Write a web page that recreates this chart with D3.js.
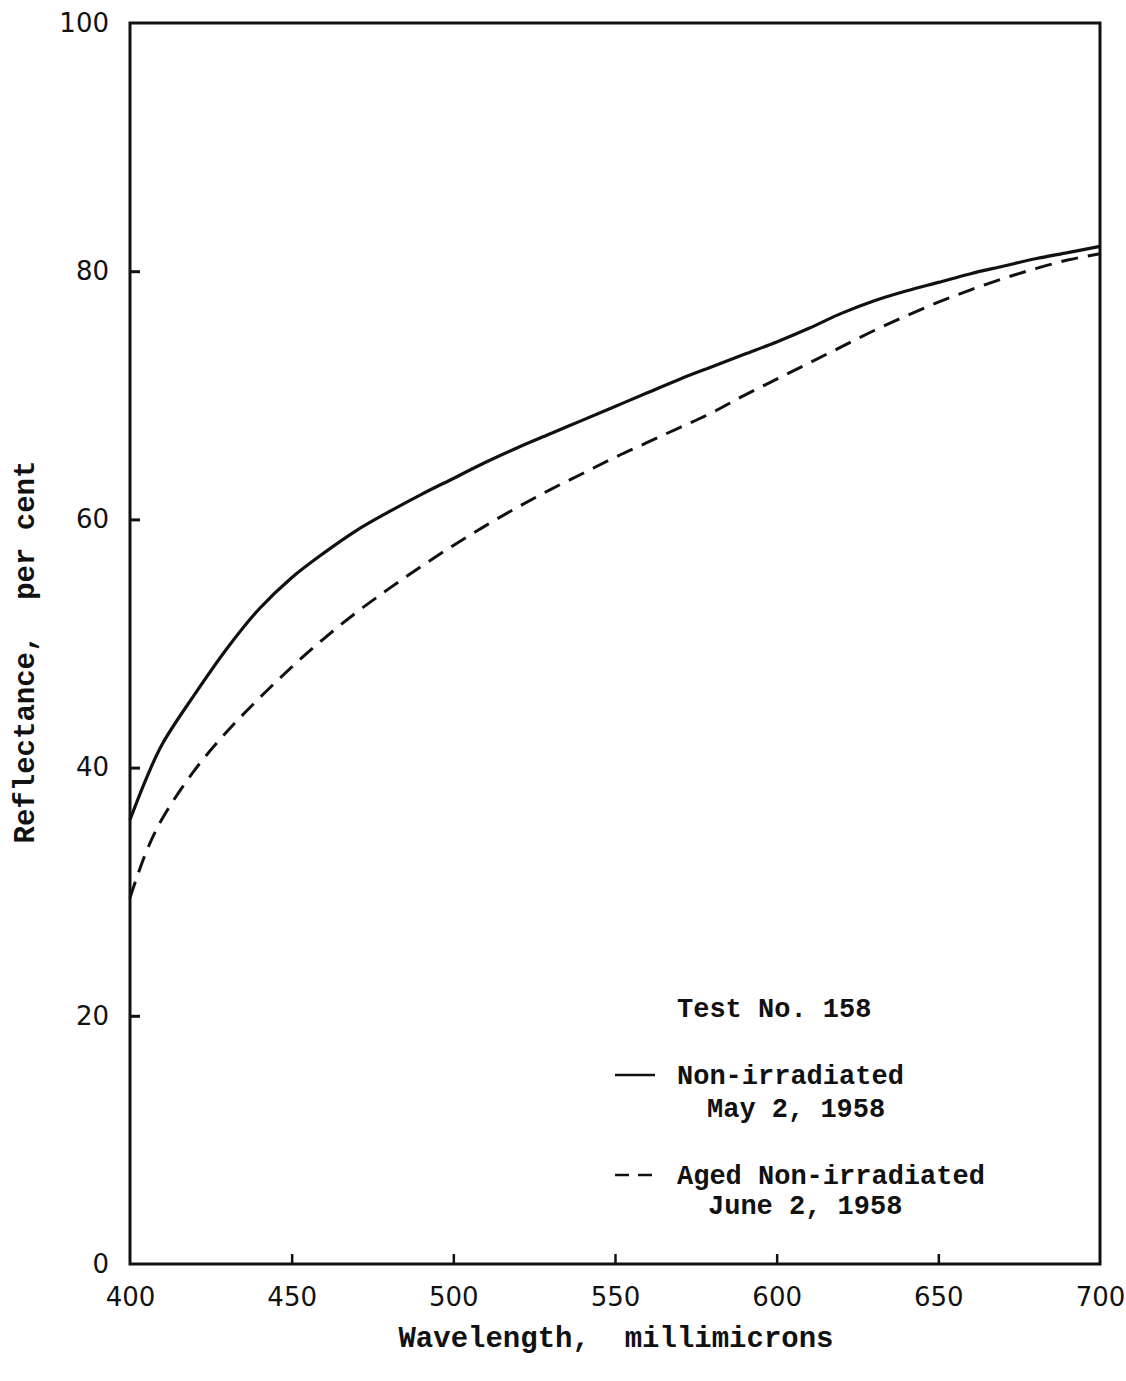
<!DOCTYPE html>
<html>
<head>
<meta charset="utf-8">
<script src="https://cdn.jsdelivr.net/npm/d3@7"></script>
<style>
  html, body { margin: 0; padding: 0; background: #fff; }
  svg { display: block; }
  .tick text { font-family: "DejaVu Sans", "Liberation Sans", sans-serif; font-size: 26px; fill: #111; }
  .type { font-family: "Liberation Mono", "DejaVu Sans Mono", monospace; font-weight: bold; fill: #111; }
  .legend-text { font-size: 27px; }
  .axis-title { font-size: 29px; }
</style>
</head>
<body>
<script>
// Wavelength samples (millimicrons)
const wavelengths = [400, 405, 410, 420, 430, 440, 450, 460, 470, 480, 490, 500, 510, 520, 530, 540, 550,
                     560, 570, 580, 590, 600, 610, 620, 630, 640, 650, 660, 670, 680, 690, 700];
// Reflectance, per cent — non-irradiated, May 2, 1958
const nonIrradiated = [35.8, 39.1, 41.9, 45.9, 49.6, 52.8, 55.3, 57.3, 59.1, 60.6, 62.0, 63.3, 64.6, 65.8, 66.9, 68.0, 69.1,
                       70.2, 71.3, 72.3, 73.3, 74.3, 75.4, 76.6, 77.6, 78.4, 79.1, 79.8, 80.4, 81.0, 81.5, 82.0];
// Reflectance, per cent — aged non-irradiated, June 2, 1958
const agedNonIrradiated = [29.5, 33.2, 35.9, 39.8, 42.9, 45.6, 48.1, 50.4, 52.5, 54.4, 56.2, 57.9, 59.5, 61.0, 62.4, 63.7, 65.0,
                           66.2, 67.4, 68.6, 70.0, 71.3, 72.6, 73.9, 75.2, 76.4, 77.5, 78.5, 79.4, 80.2, 80.9, 81.4];
const xTicks = [400, 450, 500, 550, 600, 650, 700];
const yTicks = [0, 20, 40, 60, 80, 100];

const W = 1126, H = 1381;
const plot = { left: 130, right: 1100, top: 23, bottom: 1264 };

const svg = d3.select("body").append("svg").attr("width", W).attr("height", H);

const x = d3.scaleLinear().domain([400, 700]).range([plot.left, plot.right]);
const y = d3.scaleLinear().domain([0, 100]).range([plot.bottom, plot.top]);

// Bottom axis: inward ticks, labels below
const xAxis = svg.append("g")
  .attr("transform", `translate(0,${plot.bottom})`)
  .call(d3.axisBottom(x).tickValues(xTicks).tickSizeInner(-10).tickSizeOuter(0).tickPadding(24).tickFormat(d3.format("d")));
xAxis.select(".domain").remove();
xAxis.selectAll(".tick line").attr("stroke", "#111").attr("stroke-width", 2.5)
  .filter(d => d === 400 || d === 700).remove();

// Left axis: inward ticks, labels to the left
const yAxis = svg.append("g")
  .attr("transform", `translate(${plot.left},0)`)
  .call(d3.axisLeft(y).tickValues(yTicks).tickSizeInner(-10).tickSizeOuter(0).tickPadding(21).tickFormat(d3.format("d")));
yAxis.select(".domain").remove();
yAxis.selectAll(".tick line").attr("stroke", "#111").attr("stroke-width", 3)
  .filter(d => d === 0 || d === 100).remove();

// Plot frame
svg.append("rect")
  .attr("x", plot.left).attr("y", plot.top)
  .attr("width", plot.right - plot.left).attr("height", plot.bottom - plot.top)
  .attr("fill", "none").attr("stroke", "#111").attr("stroke-width", 3);

// Curves
const line = d3.line()
  .x((d, i) => x(wavelengths[i]))
  .y(d => y(d))
  .curve(d3.curveCatmullRom.alpha(0.5));

svg.append("path").datum(nonIrradiated)
  .attr("d", line).attr("fill", "none").attr("stroke", "#111").attr("stroke-width", 3.2);

svg.append("path").datum(agedNonIrradiated)
  .attr("d", line).attr("fill", "none").attr("stroke", "#111").attr("stroke-width", 3)
  .attr("stroke-dasharray", "17,10");

// Axis titles
svg.append("text").attr("class", "type axis-title")
  .attr("x", 616).attr("y", 1347).attr("text-anchor", "middle")
  .attr("xml:space", "preserve")
  .text("Wavelength,  millimicrons");

svg.append("text").attr("class", "type axis-title")
  .attr("transform", "translate(34,652) rotate(-90)")
  .attr("text-anchor", "middle")
  .attr("xml:space", "preserve")
  .text("Reflectance,  per cent");

// Legend
const legend = svg.append("g");
legend.append("text").attr("class", "type legend-text").attr("x", 677).attr("y", 1017).text("Test No. 158");

legend.append("line").attr("x1", 615).attr("x2", 655).attr("y1", 1075).attr("y2", 1075)
  .attr("stroke", "#111").attr("stroke-width", 2.5);
legend.append("text").attr("class", "type legend-text").attr("x", 677).attr("y", 1084).text("Non-irradiated");
legend.append("text").attr("class", "type legend-text").attr("x", 707).attr("y", 1117).text("May 2, 1958");

legend.append("line").attr("x1", 615).attr("x2", 655).attr("y1", 1175).attr("y2", 1175)
  .attr("stroke", "#111").attr("stroke-width", 2.5).attr("stroke-dasharray", "14,9");
legend.append("text").attr("class", "type legend-text").attr("x", 677).attr("y", 1184).text("Aged Non-irradiated");
legend.append("text").attr("class", "type legend-text").attr("x", 708).attr("y", 1214).text("June 2, 1958");
</script>
</body>
</html>
